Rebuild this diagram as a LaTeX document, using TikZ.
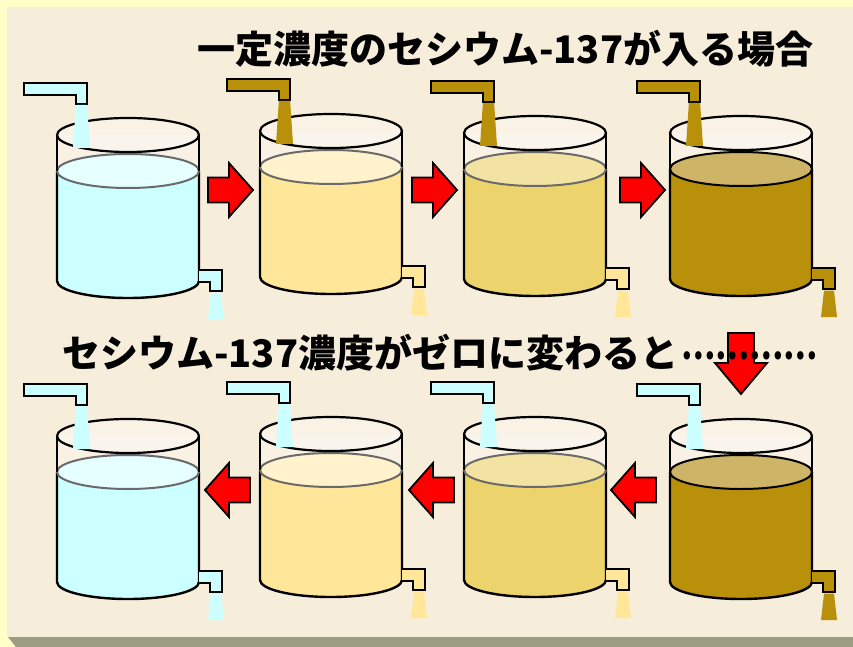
\documentclass[tikz,border=0pt]{standalone}
\usepackage{fontspec}
\newfontfamily\jp{Noto Sans CJK JP}
\definecolor{frameedge}{HTML}{FFFFC8}
\definecolor{paper}{HTML}{F7EDDB}
\definecolor{shadowband}{HTML}{9C9C80}
\definecolor{cyanliq}{HTML}{CCFFFF}
\definecolor{cyantop}{HTML}{E6FFFF}
\definecolor{paleliq}{HTML}{FFE699}
\definecolor{paletop}{HTML}{FFF2CC}
\definecolor{midliq}{HTML}{ECD36C}
\definecolor{midtop}{HTML}{F3E3A3}
\definecolor{darkliq}{HTML}{B8900A}
\definecolor{darktop}{HTML}{CDB466}
\definecolor{rimgray}{HTML}{6A6A6A}
\definecolor{arrowred}{HTML}{FF0000}

\tikzset{
  heading/.style={font=\jp\bfseries\fontsize{38}{40}\selectfont, inner sep=0pt, text=black},
  blockarrow/.style={fill=arrowred, draw=black, line width=1.8pt, line join=miter},
  pipeline/.style={draw=black, line width=1.8pt, line join=miter},
}

% One cylinder: #1 cx, #2 top-rim y, #3 liquid, #4 liquid surface, #5 surface rim,
% #6 inlet colour, #7 outlet colour
\newcommand{\cylinder}[7]{%
  \begin{scope}[shift={(#1,#2)}]
    % glass above the liquid
    \fill[white, opacity=.25] (-71,0) -- (-71,36) -- (71,36) -- (71,0) -- cycle;
    % liquid body
    \fill[#3] (-71,36) -- (-71,146) arc[start angle=180, end angle=0, x radius=71, y radius=17] -- (71,36) -- cycle;
    \draw[line width=2.4pt, line join=round] (-71,36) -- (-71,146) arc[start angle=180, end angle=0, x radius=71, y radius=17] -- (71,36);
    \filldraw[fill=#4, draw=#5, line width=2pt] (0,36) ellipse[x radius=71, y radius=17];
    % glass walls and rim
    \draw[line width=1.4pt] (-71,0) -- (-71,36) (71,0) -- (71,36);
    \fill[white, opacity=.3] (0,0) ellipse[x radius=71, y radius=17];
    \draw[line width=2.2pt] (0,0) ellipse[x radius=71, y radius=17];
    % inlet pipe and its stream
    \fill[#6] (-52,-32) -- (-41,-32) -- (-38,13) -- (-55,13) -- cycle;
    \filldraw[fill=#6, pipeline] (-104,-52) -- (-41,-52) -- (-41,-31) -- (-52,-31) -- (-52,-40) -- (-104,-40) -- cycle;
    \fill[#6] (-51,-30) -- (-42,-30) -- (-39,12) -- (-54,12) -- cycle;
    % outlet pipe and its stream
    \fill[#7] (71,135) -- (94,135) -- (94,156) -- (82,156) -- (82,147) -- (71,147) -- cycle;
    \draw[pipeline] (71,135) -- (94,135) -- (94,156) -- (82,156) -- (82,147) -- (71,147);
    \fill[#7] (83,157.5) -- (93,157.5) -- (96,184) -- (80,184) -- cycle;
  \end{scope}}

\newcommand{\rightblock}[2]{%
  \draw[blockarrow] (#1-22,#2-12.5) -- (#1-1,#2-12.5) -- (#1-1,#2-27) -- (#1+23,#2)
    -- (#1-1,#2+27) -- (#1-1,#2+12.5) -- (#1-22,#2+12.5) -- cycle;}
\newcommand{\leftblock}[2]{%
  \draw[blockarrow] (#1+22,#2-12.5) -- (#1+1,#2-12.5) -- (#1+1,#2-27) -- (#1-23,#2)
    -- (#1+1,#2+27) -- (#1+1,#2+12.5) -- (#1+22,#2+12.5) -- cycle;}

\begin{document}
\begin{tikzpicture}[x=1pt, y=-1pt]
  \useasboundingbox (0,0) rectangle (853,647);
  % frame
  \fill[frameedge] (0,0) rectangle (853,647);
  \fill[paper] (7,7) rectangle (853,637);
  \fill[shadowband] (8,637) -- (853,637) -- (853,647) -- (16,647) -- cycle;

  % upper row: a fixed concentration of Cs-137 flows in
  \cylinder{128}{135}{cyanliq}{cyantop}{rimgray}{cyanliq}{cyanliq}
  \cylinder{331}{131}{paleliq}{paletop}{rimgray}{darkliq}{paleliq}
  \cylinder{535}{133}{midliq}{midtop}{rimgray}{darkliq}{paleliq}
  \cylinder{741}{133}{darkliq}{darktop}{black}{darkliq}{darkliq}
  \rightblock{230}{190}
  \rightblock{434}{190}
  \rightblock{642}{190}

  % lower row: clean water flows in
  \cylinder{128}{436}{cyanliq}{cyantop}{rimgray}{cyanliq}{cyanliq}
  \cylinder{331}{434}{paleliq}{paletop}{rimgray}{cyanliq}{paleliq}
  \cylinder{535}{434}{midliq}{midtop}{rimgray}{cyanliq}{paleliq}
  \cylinder{741}{436}{darkliq}{darktop}{black}{cyanliq}{darkliq}
  \leftblock{228}{490}
  \leftblock{432}{490}
  \leftblock{634}{490}

  % turn-down arrow
  \draw[blockarrow] (728,333) -- (754,333) -- (754,363) -- (767,363) -- (741,394)
    -- (715,363) -- (728,363) -- cycle;

  \node[heading, anchor=base west] (upper) at (197,64) {一定濃度のセシウム-137が入る場合};
  \node[heading, anchor=base west] (lower) at (62,367) {セシウム-137濃度がゼロに変わると\kern3pt\raisebox{8pt}{\scalebox{0.8}[1]{⋯⋯⋯⋯}}};
\end{tikzpicture}
\end{document}
